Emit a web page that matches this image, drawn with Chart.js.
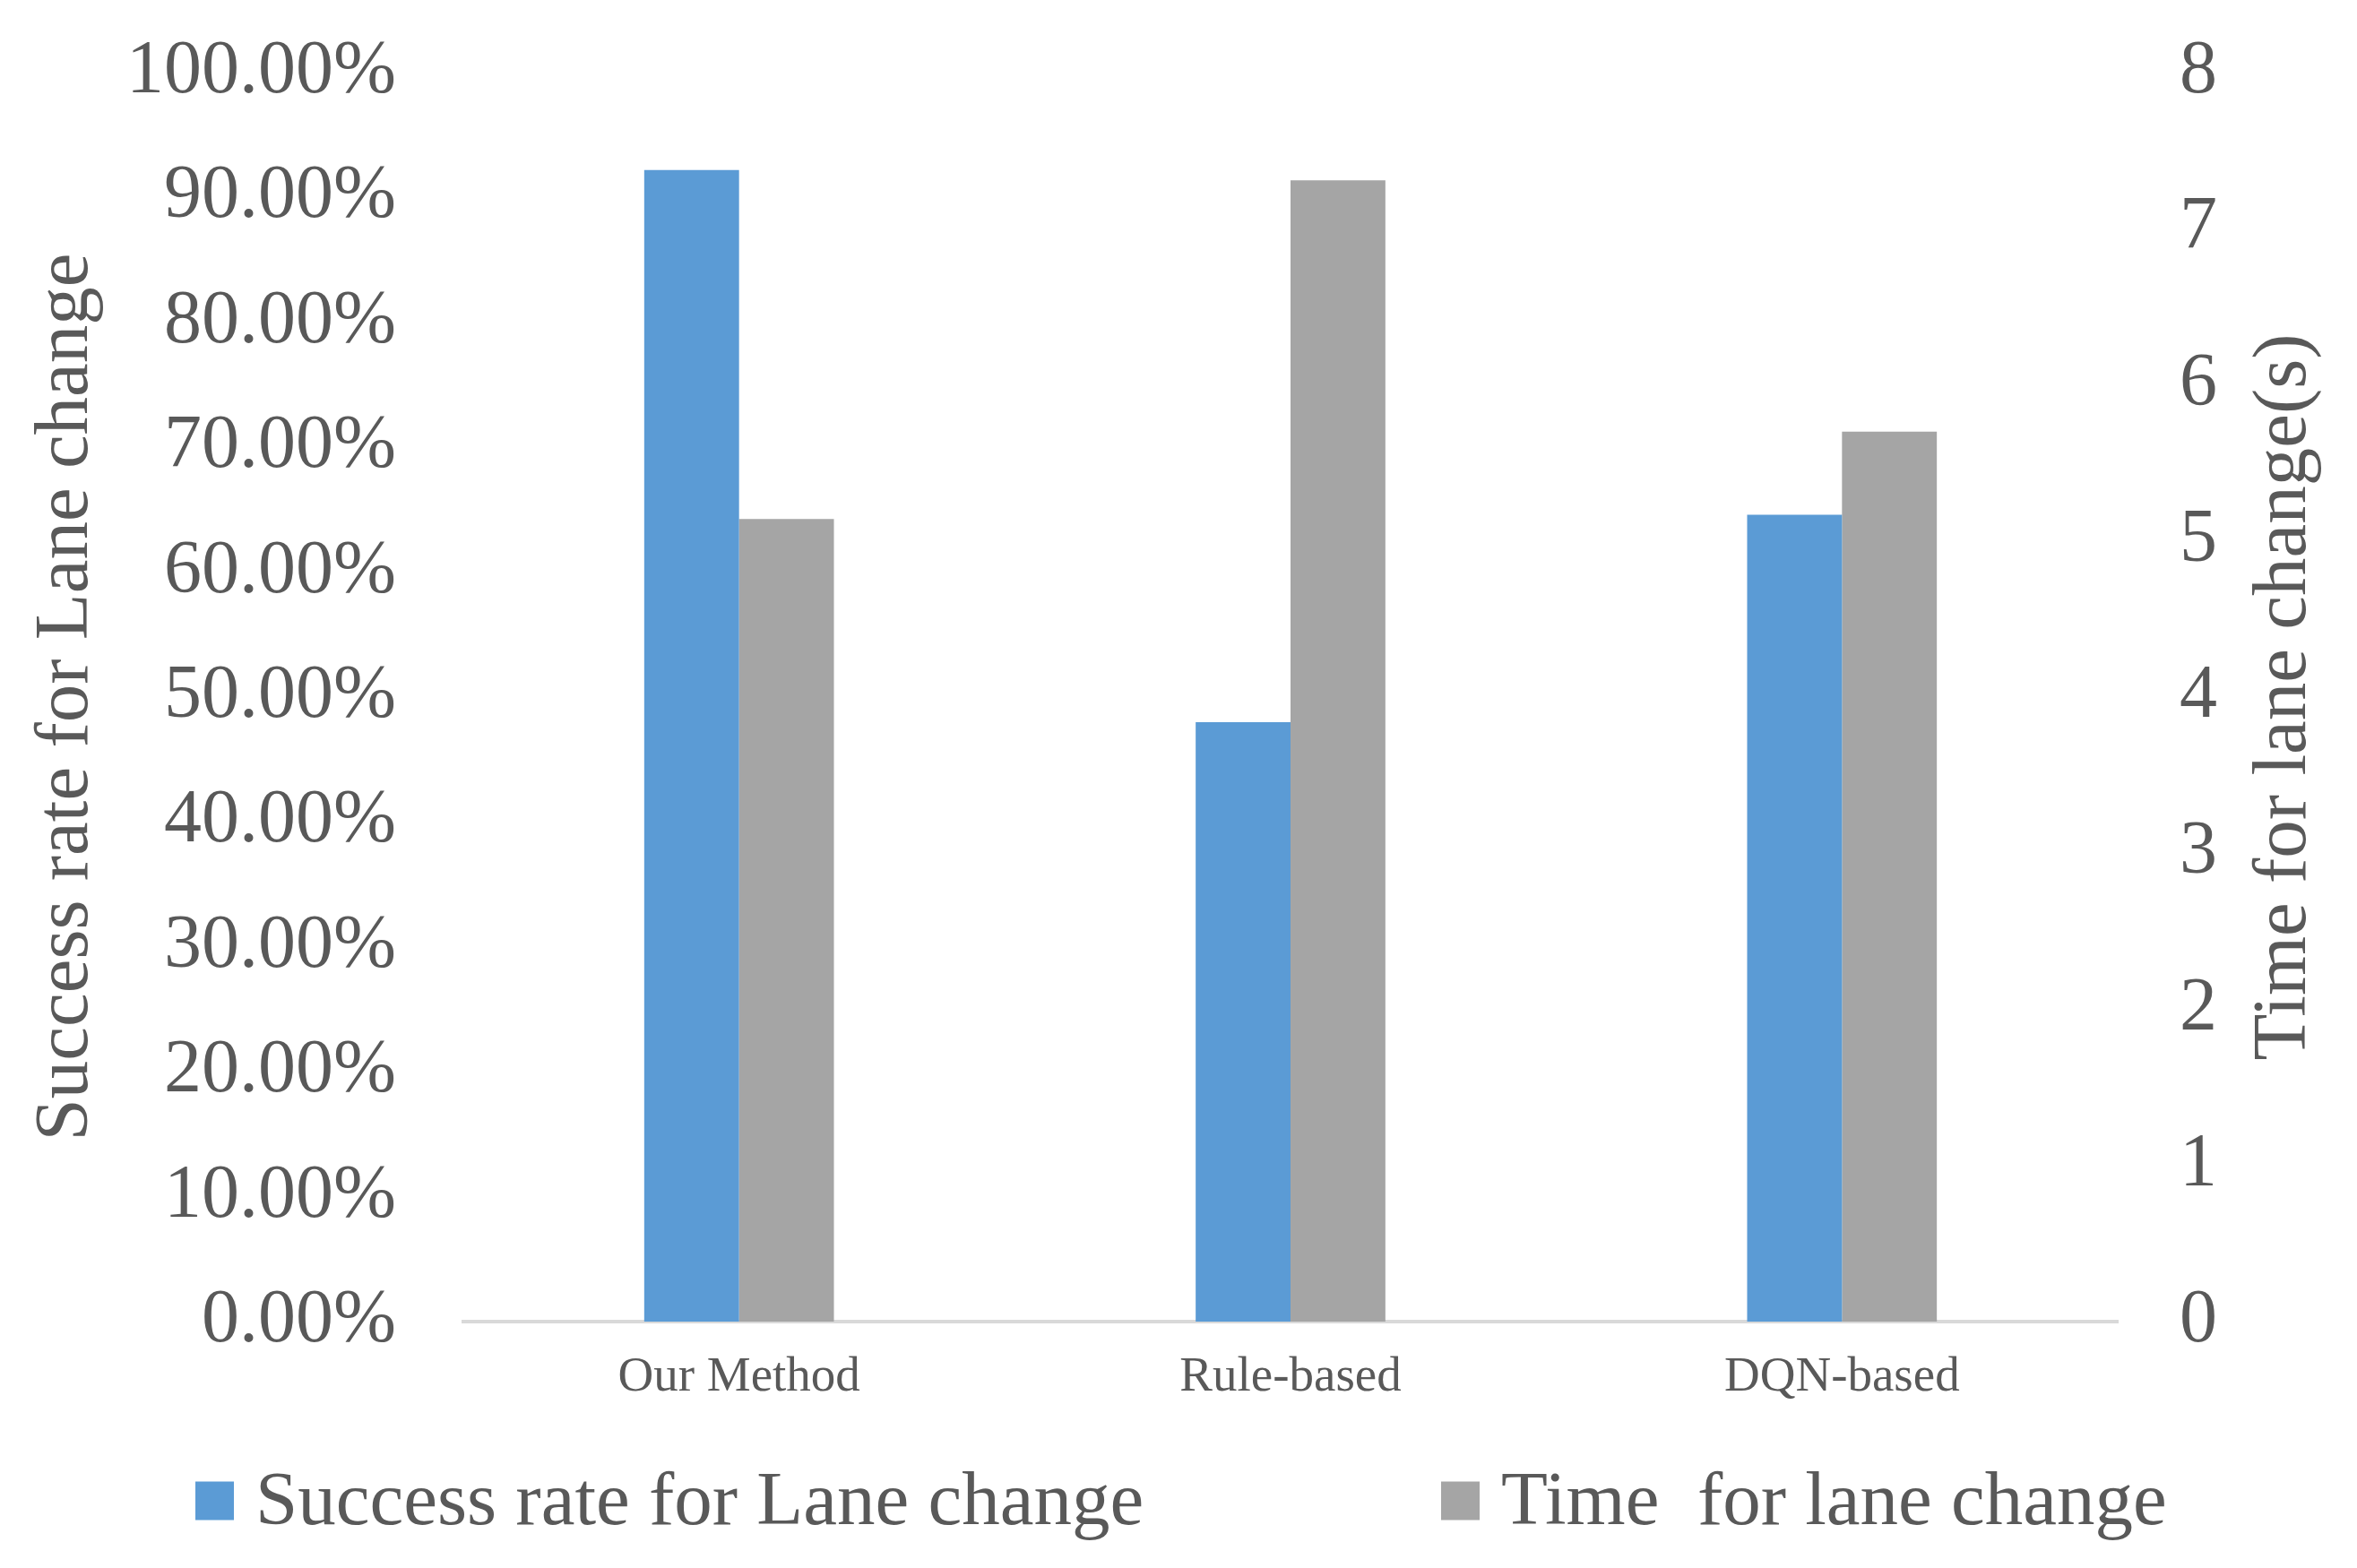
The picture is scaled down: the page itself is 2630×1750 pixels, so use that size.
<!DOCTYPE html>
<html>
<head>
<meta charset="utf-8">
<script src="https://cdn.jsdelivr.net/npm/chart.js@4.4.1/dist/chart.umd.min.js"></script>
<style>
body{margin:0;background:#fff;}
#lanechart{display:block;}
</style>
</head>
<body>
<canvas id="lanechart" width="2630" height="1750" style="width:2630px;height:1750px"></canvas>
<script>
// values
const methods = ['Our Method', 'Rule-based', 'DQN-based'];
const successRate = [0.922, 0.48, 0.646];
const laneTime = [5.14, 7.31, 5.70];
const seriesNames = ['Success rate for Lane change', 'Time  for lane change'];
const leftTitle = 'Success rate for Lane change';
const rightTitle = 'Time for lane change(s)';

const txtColor = '#595959';
const serif = "'Liberation Serif', 'Times New Roman', serif";

Chart.defaults.font.family = serif;
Chart.defaults.color = txtColor;

// right title reads bottom-to-top like the left one, so it is drawn here
const sideTitle = {
  id: 'sideTitle',
  afterDraw(chart) {
    const c = chart.ctx;
    const a = chart.chartArea;
    c.save();
    c.fillStyle = txtColor;
    c.font = '85px ' + serif;
    c.textAlign = 'center';
    c.textBaseline = 'middle';
    c.translate(2550, (a.top + a.bottom) / 2);
    c.rotate(-Math.PI / 2);
    c.fillText(rightTitle, 0, 0);
    c.restore();
  }
};

// legend with the wide gap between the two entries
const bottomLegend = {
  id: 'bottomLegend',
  afterDraw(chart) {
    const c = chart.ctx;
    const xs = [218, 1608];
    const y = 1675;
    const box = 43;
    c.save();
    c.font = '85px ' + serif;
    c.textBaseline = 'middle';
    c.textAlign = 'left';
    chart.data.datasets.forEach((ds, k) => {
      c.fillStyle = ds.backgroundColor;
      c.fillRect(xs[k], y - box / 2, box, box);
      c.fillStyle = txtColor;
      c.fillText(ds.label, xs[k] + box + 24, y + 4);
    });
    c.restore();
  }
};

// fixed side widths, and no extra top space from the tick padding
function fixSide(w) {
  return function(s) {
    s.width = w;
    s.paddingTop = 0;
    s.paddingBottom = 0;
  };
}

const ctx = document.getElementById('lanechart').getContext('2d');
new Chart(ctx, {
  type: 'bar',
  data: {
    labels: methods,
    datasets: [{
      label: seriesNames[0],
      data: successRate,
      backgroundColor: '#5b9bd5',
      yAxisID: 'y'
    }, {
      label: seriesNames[1],
      data: laneTime,
      backgroundColor: '#a5a5a5',
      yAxisID: 'y1'
    }]
  },
  options: {
    responsive: false,
    devicePixelRatio: 1,
    animation: false,
    categoryPercentage: 0.344,
    barPercentage: 1.0,
    layout: {
      padding: { top: 81, left: 0, right: 0, bottom: 0 }
    },
    plugins: {
      legend: { display: false },
      tooltip: { enabled: false }
    },
    scales: {
      x: {
        grid: { display: false, drawTicks: false },
        border: { color: '#d9d9d9', width: 4 },
        ticks: {
          padding: 30,
          font: { size: 55 },
          color: txtColor
        },
        afterFit(s) { s.height = 275; }
      },
      y: {
        position: 'left',
        min: 0,
        max: 1,
        grid: { display: false, drawTicks: false },
        border: { display: false },
        ticks: {
          stepSize: 0.1,
          padding: 75,
          font: { size: 84 },
          color: txtColor,
          callback: function(v) { return (v * 100).toFixed(2) + '%'; }
        },
        title: {
          display: true,
          text: leftTitle,
          font: { size: 85 },
          color: txtColor,
          padding: { top: 24, bottom: 0 }
        },
        afterFit: fixSide(517)
      },
      y1: {
        position: 'right',
        min: 0,
        max: 8,
        grid: { display: false, drawTicks: false },
        border: { display: false },
        ticks: {
          stepSize: 1,
          padding: 69,
          font: { size: 84 },
          color: txtColor
        },
        afterFit: fixSide(267)
      }
    }
  },
  plugins: [sideTitle, bottomLegend]
});
</script>
</body>
</html>
